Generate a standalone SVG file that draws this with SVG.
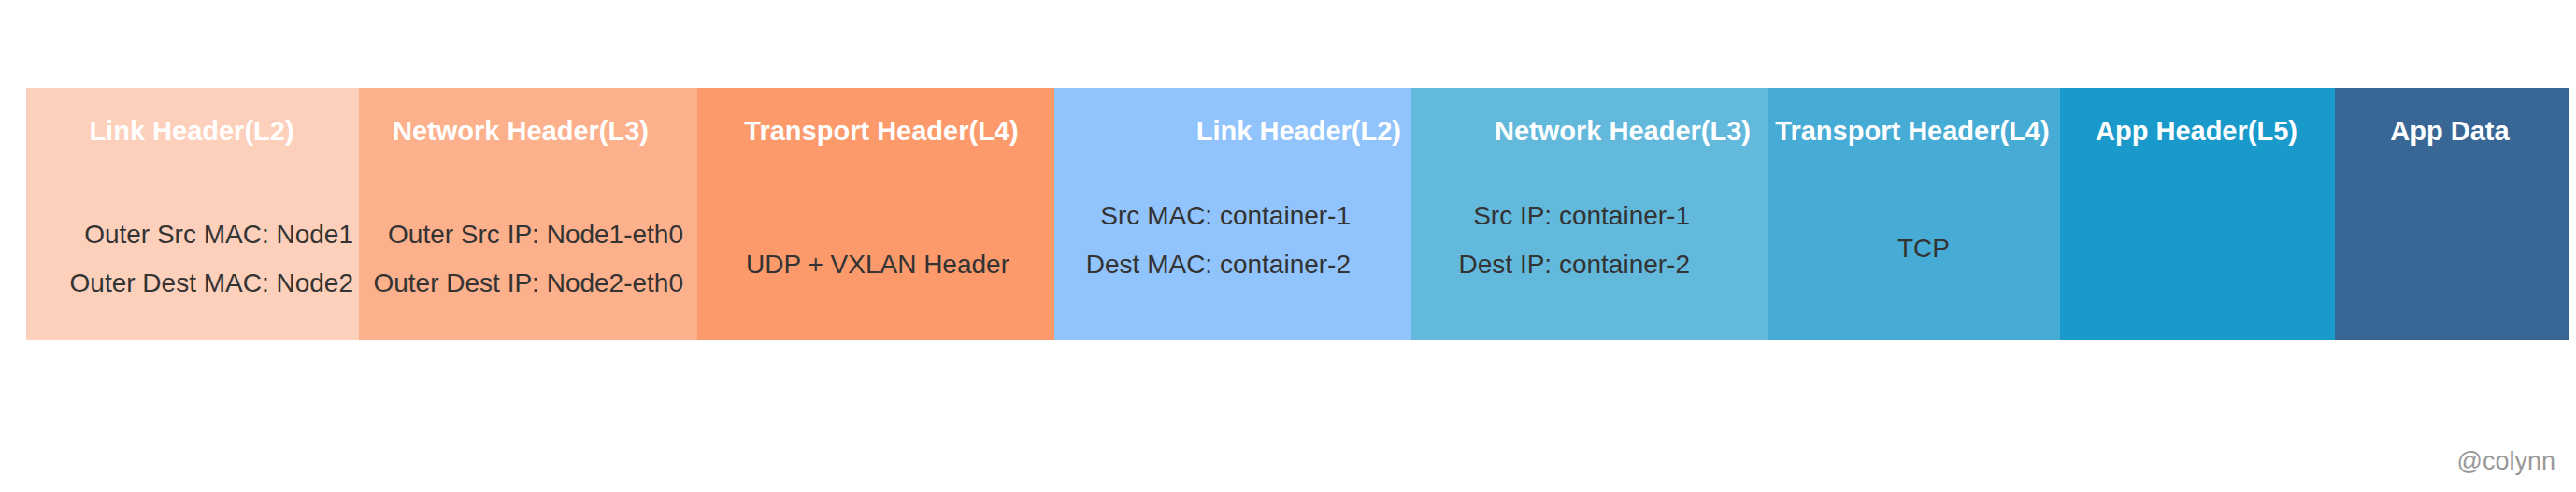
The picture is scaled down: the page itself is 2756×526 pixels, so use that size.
<svg xmlns="http://www.w3.org/2000/svg" width="2756" height="526" viewBox="0 0 2756 526">
  <style>
    .title { font-family: "Liberation Sans", Arial, sans-serif; font-size: 29px; font-weight: bold; fill: #ffffff; }
    .body { font-family: "Liberation Sans", Arial, sans-serif; font-size: 28px; fill: #333333; }
    .end { text-anchor: end; }
    .mid { text-anchor: middle; }
    .sig { font-family: "Liberation Sans", Arial, sans-serif; font-size: 27px; fill: #999999; text-anchor: end; }
  </style>
  <rect x="0" y="0" width="2756" height="526" fill="#ffffff"/>
  <g id="outer-link-header">
    <rect x="28" y="94" width="356" height="270" fill="#FDD0BC"/>
    <text class="title mid" x="205" y="150">Link Header(L2)</text>
    <text class="body end" x="378" y="260">Outer Src MAC: Node1</text>
    <text class="body end" x="378" y="312">Outer Dest MAC: Node2</text>
  </g>
  <g id="outer-network-header">
    <rect x="384" y="94" width="362" height="270" fill="#FCB08C"/>
    <text class="title mid" x="557" y="150">Network Header(L3)</text>
    <text class="body end" x="731" y="260">Outer Src IP: Node1-eth0</text>
    <text class="body end" x="731" y="312">Outer Dest IP: Node2-eth0</text>
  </g>
  <g id="outer-transport-header">
    <rect x="746" y="94" width="382" height="270" fill="#FC9A6C"/>
    <text class="title mid" x="943" y="150">Transport Header(L4)</text>
    <text class="body mid" x="939" y="292">UDP + VXLAN Header</text>
  </g>
  <g id="inner-link-header">
    <rect x="1128" y="94" width="382" height="270" fill="#91C4FC"/>
    <text class="title end" x="1499" y="150">Link Header(L2)</text>
    <text class="body end" x="1445" y="240">Src MAC: container-1</text>
    <text class="body end" x="1445" y="292">Dest MAC: container-2</text>
  </g>
  <g id="inner-network-header">
    <rect x="1510" y="94" width="382" height="270" fill="#63B9DC"/>
    <text class="title end" x="1873" y="150">Network Header(L3)</text>
    <text class="body end" x="1808" y="240">Src IP: container-1</text>
    <text class="body end" x="1808" y="292">Dest IP: container-2</text>
  </g>
  <g id="inner-transport-header">
    <rect x="1892" y="94" width="312" height="270" fill="#46ACD5"/>
    <text class="title mid" x="2046" y="150">Transport Header(L4)</text>
    <text class="body mid" x="2058" y="275">TCP</text>
  </g>
  <g id="app-header">
    <rect x="2204" y="94" width="294" height="270" fill="#1A9ACB"/>
    <text class="title mid" x="2350" y="150">App Header(L5)</text>
  </g>
  <g id="app-data">
    <rect x="2498" y="94" width="250" height="270" fill="#386796"/>
    <text class="title mid" x="2621" y="150">App Data</text>
  </g>
  <g id="connectors"></g>
  <text class="sig" x="2734" y="502">@colynn</text>
</svg>
